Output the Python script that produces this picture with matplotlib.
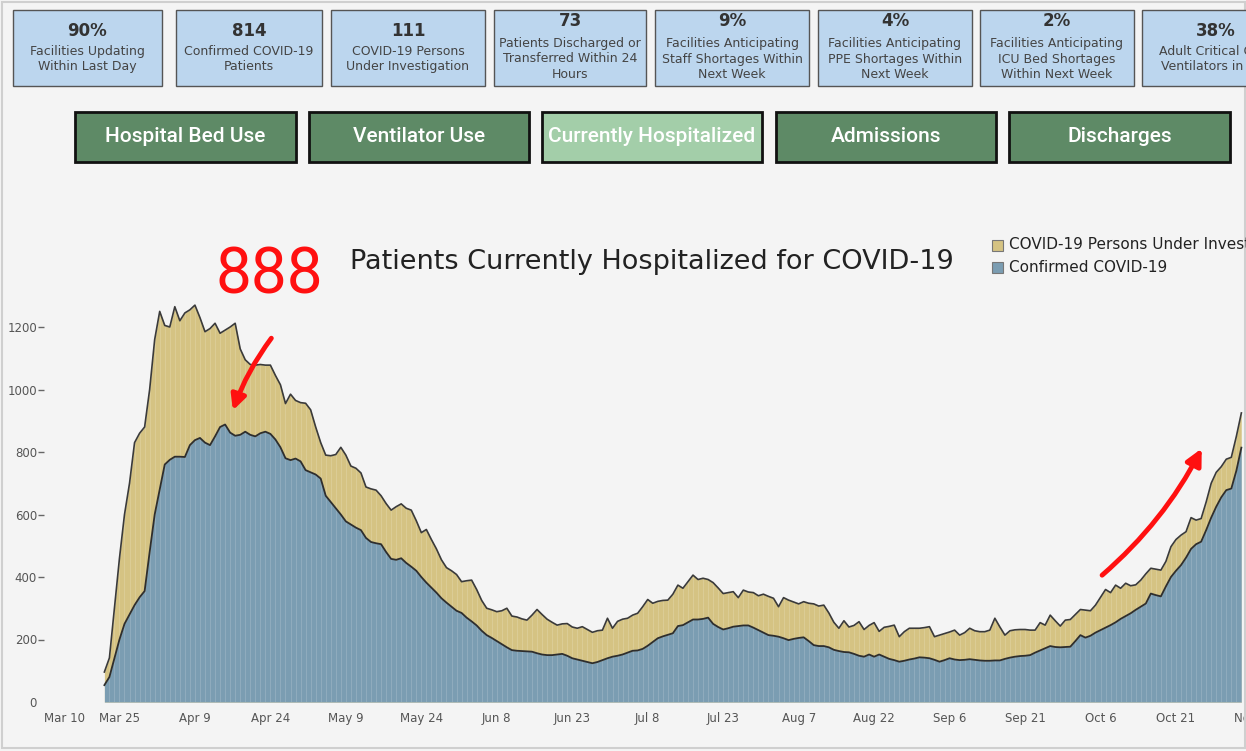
import matplotlib
matplotlib.use("Agg")
import matplotlib.pyplot as plt
from matplotlib.patches import Rectangle, FancyArrowPatch
import pandas as pd

# ---- data (daily) ----
start_date = "2020-03-22"

total_hospitalized = [
    96, 141, 300, 460, 600, 700, 830, 860, 880, 1000,
    1160, 1250, 1205, 1200, 1265, 1220, 1245, 1255, 1270, 1230,
    1185, 1195, 1212, 1180, 1190, 1200, 1212, 1130, 1095, 1080,
    1078, 1080, 1078, 1078, 1045, 1015, 955, 985, 965, 958,
    956, 935, 880, 830, 790, 788, 792, 815, 790, 755,
    748, 733, 688, 682, 678, 660, 635, 614, 625, 634,
    620, 614, 580, 542, 552, 520, 490, 455, 430, 420,
    408, 385, 388, 390, 360, 325, 300, 295, 289, 292,
    300, 275, 272, 266, 262, 278, 296, 280, 265, 255,
    246, 250, 251, 240, 236, 241, 232, 223, 228, 230,
    268, 236, 258, 265, 268, 278, 284, 305, 328, 316,
    322, 325, 326, 345, 374, 364, 385, 406, 392, 396,
    392, 382, 365, 347, 350, 353, 334, 358, 352, 350,
    340, 345, 338, 332, 305, 334, 326, 320, 314, 321,
    316, 314, 307, 310, 285, 255, 236, 260, 240, 245,
    257, 232, 245, 254, 226, 239, 242, 246, 209, 225,
    236, 236, 236, 238, 241, 209, 214, 219, 224, 230,
    214, 222, 236, 228, 225, 225, 230, 268, 240, 214,
    228, 231, 232, 232, 230, 230, 254, 246, 278, 260,
    243, 262, 264, 280, 296, 294, 292, 310, 335, 360,
    350, 374, 364, 380, 372, 375, 390, 410, 428, 425,
    422, 450, 497, 520, 534, 545, 590, 582, 587, 640,
    700, 735, 753, 777, 783, 850, 925,
]

confirmed = [
    54, 80, 140, 200, 250, 280, 310, 335, 355, 480,
    600, 680, 760, 775, 785, 785, 784, 822, 838, 845,
    830, 822, 850, 880, 888, 862, 852, 855, 865, 855,
    850, 860, 865, 858, 840, 815, 780, 774, 779, 770,
    742, 735, 728, 715, 660, 640, 620, 600, 578, 568,
    558, 550, 525, 512, 508, 505, 480, 458, 455, 460,
    445, 433, 420, 400, 382, 366, 350, 332, 318, 305,
    292, 285, 270, 258, 245, 228, 214, 205, 195, 185,
    175, 166, 164, 163, 162, 161, 156, 152, 150, 150,
    152, 154, 148, 140, 136, 132, 128, 124, 128, 134,
    140, 145, 148, 152, 158, 164, 165, 170, 180, 192,
    204, 210, 215, 220, 243, 246, 255, 264, 264, 266,
    270, 250, 240, 232, 236, 241, 243, 245, 245, 238,
    230, 222, 214, 212, 209, 204, 198, 202, 205, 207,
    195, 182, 179, 179, 175, 167, 163, 160, 159, 154,
    148, 145, 152, 145, 152, 145, 138, 134, 129, 132,
    136, 139, 143, 142, 140, 135, 129, 134, 140, 136,
    134, 135, 137, 135, 133, 132, 132, 133, 133, 138,
    142, 145, 147, 148, 150, 158, 165, 172, 179, 176,
    175, 176, 177, 195, 214, 206, 212, 222, 230, 238,
    246, 255, 266, 275, 284, 295, 305, 315, 347, 342,
    338, 370, 400, 420, 438, 462, 490, 505, 513, 550,
    590, 625, 655, 678, 683, 740, 814,
]

tick_labels = ["Mar 10", "Mar 25", "Apr 9", "Apr 24", "May 9", "May 24", "Jun 8",
               "Jun 23", "Jul 8", "Jul 23", "Aug 7", "Aug 22", "Sep 6", "Sep 21",
               "Oct 6", "Oct 21", "Nov 5"]
y_ticks = [0, 200, 400, 600, 800, 1000, 1200]

tile_values = ["90%", "814", "111", "73", "9%", "4%", "2%", "38%"]
tile_labels = [
    "Facilities Updating\nWithin Last Day",
    "Confirmed COVID-19\nPatients",
    "COVID-19 Persons\nUnder Investigation",
    "Patients Discharged or\nTransferred Within 24\nHours",
    "Facilities Anticipating\nStaff Shortages Within\nNext Week",
    "Facilities Anticipating\nPPE Shortages Within\nNext Week",
    "Facilities Anticipating\nICU Bed Shortages\nWithin Next Week",
    "Adult Critical Care\nVentilators in Use",
]
buttons = ["Hospital Bed Use", "Ventilator Use", "Currently Hospitalized",
           "Admissions", "Discharges"]
active_button = "Currently Hospitalized"

# ---- layout helpers (pixel -> figure fraction) ----
W, H = 1246, 751
BG = "#f4f4f4"
C_PUI = "#d5c383"
C_CONF = "#7b9db2"
NARROW = ["Roboto", "DejaVu Sans"]


def fx(x):
    return x / W


def fy(y):
    return 1 - y / H


fig = plt.figure(figsize=(W / 100, H / 100), dpi=100, facecolor=BG)

# outer frame
fig.add_artist(Rectangle((fx(2), fy(748)), fx(1243), 746 / H, transform=fig.transFigure,
                         facecolor="none", edgecolor="#cfcfcf", lw=1.5))

# --- KPI tiles ---
tile_x = [(13, 162), (176, 322), (331, 485), (494, 646), (655, 809),
          (818, 972), (980, 1134), (1142, 1290)]
for (x0, x1), val, lab in zip(tile_x, tile_values, tile_labels):
    fig.add_artist(Rectangle((fx(x0), fy(86)), fx(x1 - x0), 76 / H, transform=fig.transFigure,
                             facecolor="#bcd6ee", edgecolor="#555555", lw=1.0))
    cx = (x0 + x1) / 2
    nlines = lab.count("\n") + 1
    fig.text(fx(cx), fy(21 if nlines == 3 else 31), val, ha="center", va="center",
             fontsize=12, fontweight="bold", color="#333333")
    fig.text(fx(cx), fy(59), lab, ha="center", va="center", fontsize=9,
             color="#444444", linespacing=1.25)

# --- nav buttons ---
btn_x = [(75, 296), (309, 529), (542, 762), (776, 996), (1009, 1230)]
for (x0, x1), name in zip(btn_x, buttons):
    fc = "#a3cea9" if name == active_button else "#5e8a66"
    fig.add_artist(Rectangle((fx(x0), fy(162)), fx(x1 - x0), 50 / H, transform=fig.transFigure,
                             facecolor=fc, edgecolor="#111111", lw=2.0))
    fig.text(fx((x0 + x1) / 2), fy(137), name, ha="center", va="center", fontsize=15,
             color="white", family=NARROW, fontweight="medium")

# --- chart ---
dates = pd.date_range(start_date, periods=len(confirmed), freq="D")
pui_top = total_hospitalized

ax = fig.add_axes([fx(44), fy(702), (247 * 5.031) / W, (1300 * 0.3125) / H])
ax.set_facecolor("none")
ax.fill_between(dates, 0, pui_top, color=C_PUI, lw=0)
ax.fill_between(dates, 0, confirmed, color=C_CONF, lw=0)
ax.vlines(dates, 0, pui_top, color="white", alpha=0.18, lw=0.6)
ax.plot(dates, pui_top, color="#3a3a3a", lw=1.2)
ax.plot(dates, confirmed, color="#2e2e2e", lw=1.3)

ax.set_xlim(pd.Timestamp("2020-03-10"), pd.Timestamp("2020-11-12"))
ax.set_ylim(0, 1300)
tick_dates = pd.date_range("2020-03-10", periods=len(tick_labels), freq="15D")
ax.set_xticks(tick_dates)
ax.set_xticklabels(tick_labels)
ax.get_xticklabels()[0].set_ha("left")
ax.tick_params(axis="x", length=0, pad=7, labelsize=8.5, labelcolor="#555555")
ax.set_yticks(y_ticks)
ax.set_yticklabels([str(v) for v in y_ticks])
ax.tick_params(axis="y", length=4, width=1, color="#666666", pad=1,
               labelsize=8.5, labelcolor="#555555")
ax.yaxis.get_major_ticks()[0].tick1line.set_visible(False)
for s in ax.spines.values():
    s.set_visible(False)

# title + legend
fig.text(fx(350), fy(262), "Patients Currently Hospitalized for COVID-19", ha="left",
         va="center", fontsize=19.5, color="#222222")
for yy, col, lab in [(245, C_PUI, "COVID-19 Persons Under Investigation"),
                     (267, C_CONF, "Confirmed COVID-19")]:
    fig.add_artist(Rectangle((fx(992), fy(yy + 6)), fx(11), 11 / H, transform=fig.transFigure,
                             facecolor=col, edgecolor="#777777", lw=0.8))
    fig.text(fx(1009), fy(yy), lab, ha="left", va="center", fontsize=11, color="#222222")

# red hand annotations
fig.text(fx(269), fy(276), "888", ha="center", va="center", fontsize=46, color="#ff1010",
         family=NARROW)
fig.add_artist(FancyArrowPatch((fx(273), fy(336)), (fx(232), fy(413)), transform=fig.transFigure,
                               arrowstyle="-|>", mutation_scale=22, color="#ff1010", lw=3.5,
                               connectionstyle="arc3,rad=0.08"))
fig.add_artist(FancyArrowPatch((fx(1100), fy(577)), (fx(1203), fy(446)), transform=fig.transFigure,
                               arrowstyle="-|>", mutation_scale=24, color="#ff1010", lw=3.5,
                               connectionstyle="arc3,rad=0.1"))

fig.savefig("out.png", dpi=100, facecolor=BG)
